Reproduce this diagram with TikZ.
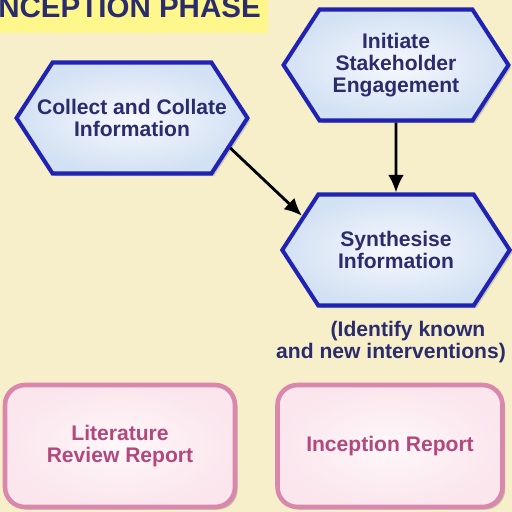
\documentclass[tikz,border=0pt]{standalone}
\usepackage{fontspec}
\setmainfont{Liberation Sans}
\usetikzlibrary{shapes.symbols,shadows,arrows.meta}

\definecolor{paper}{HTML}{F7EECA}
\definecolor{titlebg}{HTML}{FFF68C}
\definecolor{navy}{HTML}{2B2C6C}
\definecolor{hexline}{HTML}{1F22B2}
\definecolor{hexfill}{HTML}{D3E1F4}
\definecolor{pinkline}{HTML}{D987AD}
\definecolor{pinkfill}{HTML}{FBE6EE}
\definecolor{pinktext}{HTML}{B3487C}

\begin{document}
\begin{tikzpicture}[
  x=0.02cm, y=-0.02cm,
  task/.style={signal, signal to=east and west, signal pointer angle=114,
    draw=hexline, line width=2.3pt, inner color=white!80!hexfill, outer color=hexfill,
    minimum width=4.55cm, minimum height=2.22cm, inner ysep=0pt, inner xsep=-10pt,
    text=navy, align=center, font=\bfseries\fontsize{12}{12.5}\selectfont,
    drop shadow={opacity=0.35, shadow xshift=1.5pt, shadow yshift=-1.5pt}},
  report/.style={rectangle, rounded corners=0.4cm, draw=pinkline, line width=2.6pt,
    inner color=white!70!pinkfill, outer color=pinkfill,
    minimum width=4.55cm, minimum height=2.44cm, inner sep=0pt,
    text=pinktext, align=center, font=\bfseries\fontsize{12}{12.5}\selectfont,
    drop shadow={opacity=0.45, shadow xshift=1.5pt, shadow yshift=-1.5pt}},
  flow/.style={->, >={Latex[length=10pt,width=9pt]}, line width=1.6pt, black}
]
  \clip (0,0) rectangle (512,512);
  \fill[paper] (0,0) rectangle (512,512);
  \fill[titlebg] (0,0) rectangle (268,33);
  \node[anchor=base west, inner sep=0pt, text=navy,
    font=\bfseries\fontsize{16.8}{17}\selectfont] (phase) at (-2,17) {NCEPTION PHASE};

  \node[task, minimum width=4.5cm] (eng) at (396,65) {Initiate\\Stakeholder\\Engagement};
  \node[task, minimum width=4.62cm] (col) at (132,118) {Collect and Collate\\Information};
  \node[task] (syn) at (396,250) {Synthesise\\Information};
  \node[text=navy, align=center, inner sep=0pt,
    font=\bfseries\fontsize{12}{12.5}\selectfont] (ident) at (391,342)
    {\hspace*{0.68cm}(Identify known\\and new interventions)};

  \node[report, minimum width=4.6cm] (lit) at (120,446) {Literature\\Review Report};
  \node[report, minimum width=4.5cm] (inc) at (390,446) {Inception Report};

  \draw[flow] (eng) -- (syn);
  \draw[flow] (col.-17) -- (syn.160);
\end{tikzpicture}
\end{document}
